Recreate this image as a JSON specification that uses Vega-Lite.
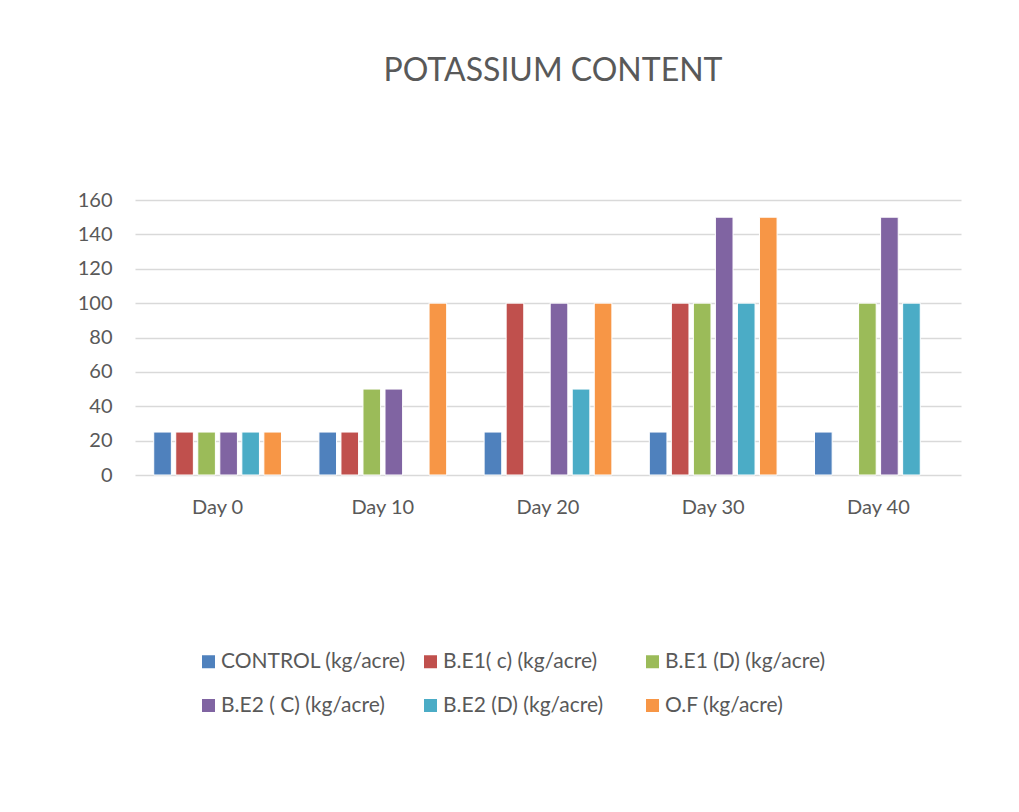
{
  "$schema": "https://vega.github.io/schema/vega-lite/v6.json",
  "width": 826,
  "height": 275,
  "autosize": {"type": "none"},
  "padding": {"left": 135, "top": 200, "right": 59, "bottom": 337},
  "background": "white",
  "title": {
    "text": "POTASSIUM CONTENT",
    "fontSize": 32,
    "font": "Lato",
    "fontWeight": "normal",
    "color": "#595959",
    "anchor": "middle",
    "frame": "group",
    "offset": 102,
    "dx": 5
  },
  "data": {
    "values": [
      {"day": "Day 0", "series": "CONTROL (kg/acre)", "value": 25},
      {"day": "Day 0", "series": "B.E1( c) (kg/acre)", "value": 25},
      {"day": "Day 0", "series": "B.E1 (D) (kg/acre)", "value": 25},
      {"day": "Day 0", "series": "B.E2 ( C) (kg/acre)", "value": 25},
      {"day": "Day 0", "series": "B.E2 (D) (kg/acre)", "value": 25},
      {"day": "Day 0", "series": "O.F (kg/acre)", "value": 25},
      {"day": "Day 10", "series": "CONTROL (kg/acre)", "value": 25},
      {"day": "Day 10", "series": "B.E1( c) (kg/acre)", "value": 25},
      {"day": "Day 10", "series": "B.E1 (D) (kg/acre)", "value": 50},
      {"day": "Day 10", "series": "B.E2 ( C) (kg/acre)", "value": 50},
      {"day": "Day 10", "series": "O.F (kg/acre)", "value": 100},
      {"day": "Day 20", "series": "CONTROL (kg/acre)", "value": 25},
      {"day": "Day 20", "series": "B.E1( c) (kg/acre)", "value": 100},
      {"day": "Day 20", "series": "B.E2 ( C) (kg/acre)", "value": 100},
      {"day": "Day 20", "series": "B.E2 (D) (kg/acre)", "value": 50},
      {"day": "Day 20", "series": "O.F (kg/acre)", "value": 100},
      {"day": "Day 30", "series": "CONTROL (kg/acre)", "value": 25},
      {"day": "Day 30", "series": "B.E1( c) (kg/acre)", "value": 100},
      {"day": "Day 30", "series": "B.E1 (D) (kg/acre)", "value": 100},
      {"day": "Day 30", "series": "B.E2 ( C) (kg/acre)", "value": 150},
      {"day": "Day 30", "series": "B.E2 (D) (kg/acre)", "value": 100},
      {"day": "Day 30", "series": "O.F (kg/acre)", "value": 150},
      {"day": "Day 40", "series": "CONTROL (kg/acre)", "value": 25},
      {"day": "Day 40", "series": "B.E1 (D) (kg/acre)", "value": 100},
      {"day": "Day 40", "series": "B.E2 ( C) (kg/acre)", "value": 150},
      {"day": "Day 40", "series": "B.E2 (D) (kg/acre)", "value": 100}
    ]
  },
  "mark": {"type": "bar", "stroke": "white", "strokeWidth": 1},
  "encoding": {
    "x": {
      "field": "day",
      "type": "nominal",
      "sort": ["Day 0", "Day 10", "Day 20", "Day 30", "Day 40"],
      "scale": {"paddingInner": 0, "paddingOuter": 0},
      "axis": {
        "title": null,
        "labelAngle": 0,
        "domain": false,
        "ticks": false,
        "labelFontSize": 20,
        "labelFont": "Lato",
        "labelColor": "#595959",
        "labelPadding": 22
      }
    },
    "xOffset": {
      "field": "series",
      "type": "nominal",
      "sort": ["CONTROL (kg/acre)", "B.E1( c) (kg/acre)", "B.E1 (D) (kg/acre)", "B.E2 ( C) (kg/acre)", "B.E2 (D) (kg/acre)", "O.F (kg/acre)"],
      "scale": {"paddingInner": 0.2, "paddingOuter": 0.85}
    },
    "y": {
      "field": "value",
      "type": "quantitative",
      "scale": {"domain": [0, 160]},
      "axis": {
        "title": null,
        "values": [0, 20, 40, 60, 80, 100, 120, 140, 160],
        "domain": false,
        "ticks": false,
        "labelFontSize": 20,
        "labelFont": "Lato",
        "labelColor": "#595959",
        "labelPadding": 23,
        "gridColor": "#D9D9D9",
        "gridWidth": 1.5
      }
    },
    "color": {
      "field": "series",
      "type": "nominal",
      "sort": ["CONTROL (kg/acre)", "B.E1( c) (kg/acre)", "B.E1 (D) (kg/acre)", "B.E2 ( C) (kg/acre)", "B.E2 (D) (kg/acre)", "O.F (kg/acre)"],
      "scale": {
        "domain": ["CONTROL (kg/acre)", "B.E1( c) (kg/acre)", "B.E1 (D) (kg/acre)", "B.E2 ( C) (kg/acre)", "B.E2 (D) (kg/acre)", "O.F (kg/acre)"],
        "range": ["#4F81BD", "#C0504D", "#9BBB59", "#8064A2", "#4BACC6", "#F79646"]
      },
      "legend": {
        "title": null,
        "orient": "none",
        "legendX": 63,
        "legendY": 451,
        "direction": "horizontal",
        "columns": 3,
        "gridAlign": "all",
        "columnPadding": 14,
        "rowPadding": 22,
        "symbolType": "square",
        "symbolSize": 169,
        "symbolStrokeWidth": 0,
        "symbolOffset": 0,
        "labelOffset": 2,
        "labelFontSize": 21,
        "labelFont": "Lato",
        "labelColor": "#595959",
        "labelLimit": 300,
        "padding": 0
      }
    }
  },
  "config": {
    "view": {"stroke": null}
  }
}
